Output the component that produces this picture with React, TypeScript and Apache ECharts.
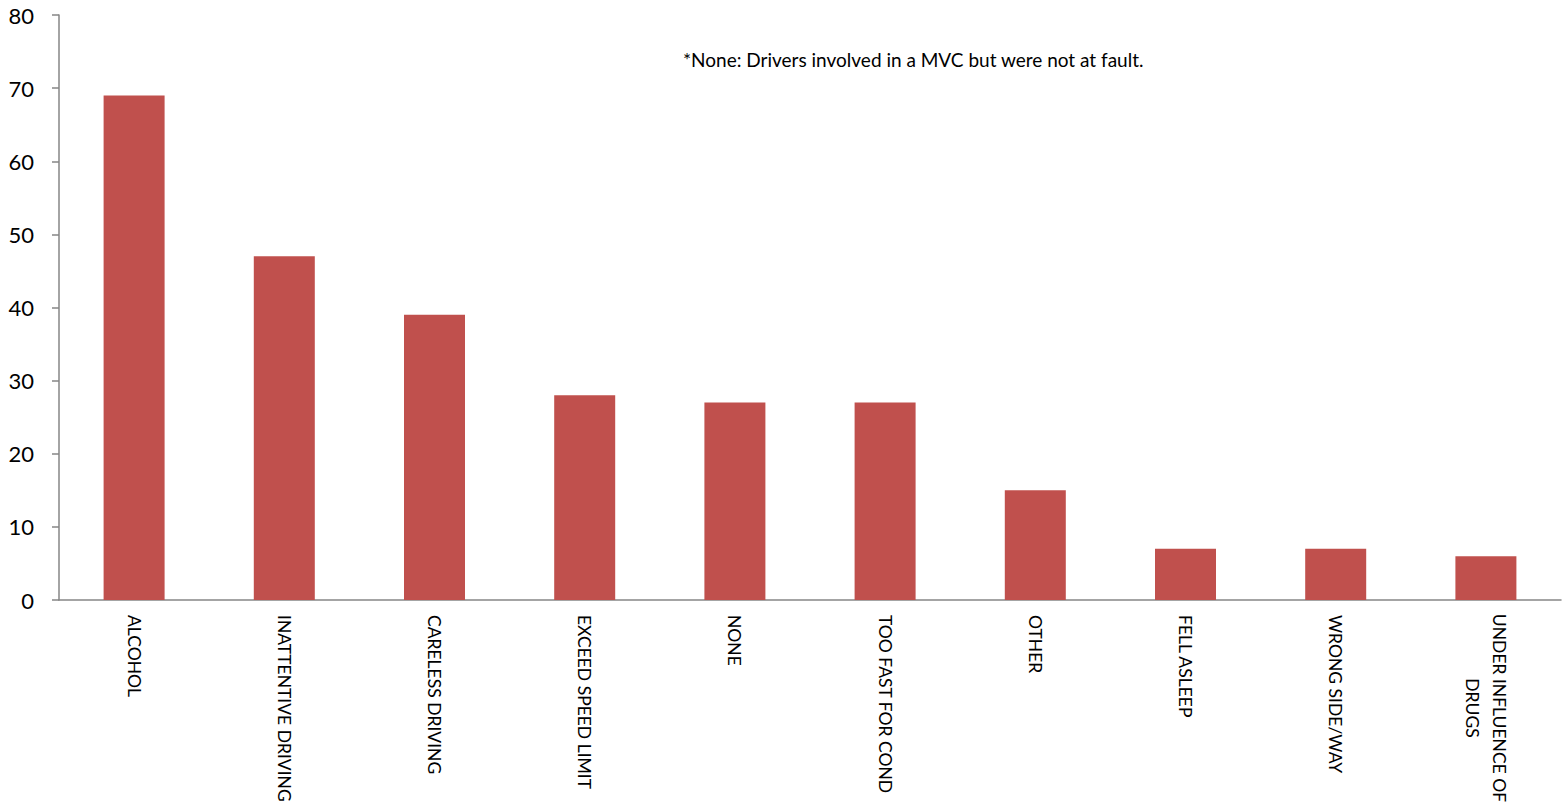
import React, { useEffect, useRef } from "react";
import * as echarts from "echarts";

const categories = [
  "ALCOHOL",
  "INATTENTIVE DRIVING",
  "CARELESS DRIVING",
  "EXCEED SPEED LIMIT",
  "NONE",
  "TOO FAST FOR COND",
  "OTHER",
  "FELL ASLEEP",
  "WRONG SIDE/WAY",
  "UNDER INFLUENCE OF\nDRUGS",
];
const values = [69, 47, 39, 28, 27, 27, 15, 7, 7, 6];
const yTicks = { min: 0, max: 80, interval: 10 };
const noteText = "*None: Drivers involved in a MVC but were not at fault.";

export default function App() {
  const ref = useRef<HTMLDivElement>(null);
  useEffect(() => {
    if (!ref.current) return;
    const chart = echarts.init(ref.current, null, { renderer: "svg" });
    const font = "Lato, 'Open Sans', sans-serif";
    const xFont = 17.5;
    chart.setOption({
      animation: false,
      backgroundColor: "#ffffff",
      grid: { left: 59, right: 3, top: 15, bottom: 209, containLabel: false },
      xAxis: {
        type: "category",
        data: categories,
        axisLine: { lineStyle: { color: "#868686", width: 1.5 } },
        axisTick: { length: 7, lineStyle: { color: "#868686", width: 1.5 } },
        axisLabel: {
          rotate: -90,
          interval: 0,
          margin: 15,
          color: "#000",
          fontSize: xFont,
          fontFamily: font,
          lineHeight: 27,
          formatter: (v: string) => {
            const parts = v.split("\n");
            if (parts.length === 1) return v;
            return parts.map((p) => "{c|" + p + "}").join("\n");
          },
          rich: {
            c: { width: 186, align: "center", fontSize: xFont, fontFamily: font, color: "#000", lineHeight: 27 },
          },
        },
      },
      yAxis: {
        type: "value",
        min: yTicks.min,
        max: yTicks.max,
        interval: yTicks.interval,
        splitLine: { show: false },
        axisLine: { show: true, lineStyle: { color: "#868686", width: 1.5 } },
        axisTick: { show: true, length: 7, lineStyle: { color: "#868686", width: 1.5 } },
        axisLabel: { color: "#000", fontSize: 22, fontFamily: font, margin: 25 },
      },
      graphic: [
        {
          type: "text",
          left: 683,
          top: 50,
          style: { text: noteText, fontSize: 19, fontFamily: font, fill: "#000" },
        },
      ],
      series: [
        {
          type: "bar",
          data: values,
          barWidth: 61,
          itemStyle: { color: "#C0504D" },
        },
      ],
    });
    return () => chart.dispose();
  }, []);
  return (
    <div
      ref={ref}
      style={{ position: "fixed", left: 0, top: 0, width: 1564, height: 809 }}
    />
  );
}
